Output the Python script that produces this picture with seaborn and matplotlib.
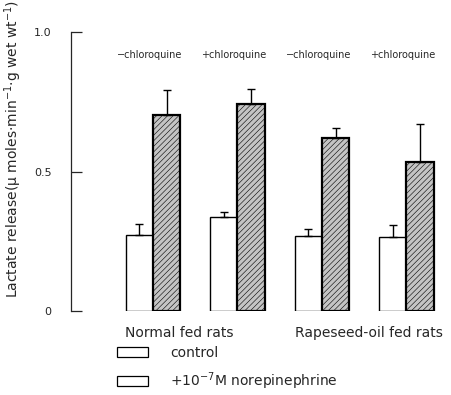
import numpy as np
import pandas as pd
import matplotlib
matplotlib.use("Agg")
import matplotlib.pyplot as plt
import matplotlib.patches as mpatches
import seaborn as sns

# ---- data ----
groups = ["normal_minus", "normal_plus", "rapeseed_minus", "rapeseed_plus"]
group_labels = ["\u2212chloroquine", "+chloroquine", "\u2212chloroquine", "+chloroquine"]
treatments = ["control", "+10$^{-7}$M norepinephrine"]
control_vals = [0.272, 0.336, 0.269, 0.266]
control_err = [0.040, 0.020, 0.024, 0.042]
ne_vals = [0.702, 0.741, 0.621, 0.535]
ne_err = [0.090, 0.054, 0.036, 0.134]
diet_labels = ["Normal fed rats", "Rapeseed-oil fed rats"]
yticks = [0, 0.5, 1.0]
ytick_labels = ["0", "0.5", "1.0"]

df = pd.DataFrame({
    "group": groups * 2,
    "treatment": [treatments[0]] * 4 + [treatments[1]] * 4,
    "value": control_vals + ne_vals,
    "err": control_err + ne_err,
})

sns.set_style("white")
plt.rcParams["font.family"] = ["DejaVu Sans"]
plt.rcParams["hatch.linewidth"] = 0.4

fig = plt.figure(figsize=(4.52, 3.95), dpi=100)
ax = fig.add_axes([71 / 452, 84 / 395, 374 / 452, 279 / 395])

sns.barplot(data=df, x="group", y="value", hue="treatment", order=groups,
            hue_order=treatments, palette=["white", "#c4c4c4"], edgecolor="black",
            width=0.65, errorbar=None, legend=False, ax=ax)

bar_containers = list(ax.containers)
for ci, cont in enumerate(bar_containers):
    sub = df[df["treatment"] == treatments[ci]].set_index("group").loc[groups]
    xs, hs = [], []
    for p in cont.patches:
        xs.append(p.get_x() + p.get_width() / 2)
        hs.append(p.get_height())
        if ci == 1:
            p.set_hatch("//////")
            p.set_linewidth(1.6)
        else:
            p.set_linewidth(1.0)
    ax.errorbar(xs, hs, yerr=[np.zeros(len(xs)), sub["err"].values], fmt="none",
                ecolor="black", elinewidth=1.0, capsize=3, capthick=1.0, zorder=1)

ax.set_xlim(-0.970, 3.456)
ax.set_ylim(0, 1.0)
for s in ["top", "right", "bottom"]:
    ax.spines[s].set_visible(False)
ax.spines["left"].set_linewidth(0.9)
ax.set_xticks([])
ax.set_xlabel("")
ax.set_yticks(yticks)
ax.set_yticklabels(ytick_labels, fontsize=8)
ax.tick_params(axis="y", direction="in", length=8, width=0.9, pad=14, left=True)
ax.set_ylabel("Lactate release(\u03bc moles\u00b7min$^{-1}$\u00b7g wet wt$^{-1}$)", fontsize=10)
ax.yaxis.set_label_coords(-0.125, 0.58)

for i, lab in enumerate(group_labels):
    ax.text(i - 0.04, 0.918, lab, ha="center", va="center", fontsize=7)

ax.text(-0.33, -0.079, diet_labels[0], ha="left", va="center", fontsize=10,
        transform=ax.get_xaxis_transform())
ax.text(1.68, -0.079, diet_labels[1], ha="left", va="center", fontsize=10,
        transform=ax.get_xaxis_transform())

handles = [mpatches.Patch(facecolor="white", edgecolor="black", linewidth=0.9),
           mpatches.Patch(facecolor="white", edgecolor="black", linewidth=0.9)]
fig.legend(handles, treatments, loc="upper left", bbox_to_anchor=(117 / 452, 0.124),
           frameon=False, fontsize=10, handlelength=2.2, handleheight=0.75,
           handletextpad=1.6, labelspacing=0.75, borderpad=0, borderaxespad=0)

fig.savefig("out.png", dpi=100)
